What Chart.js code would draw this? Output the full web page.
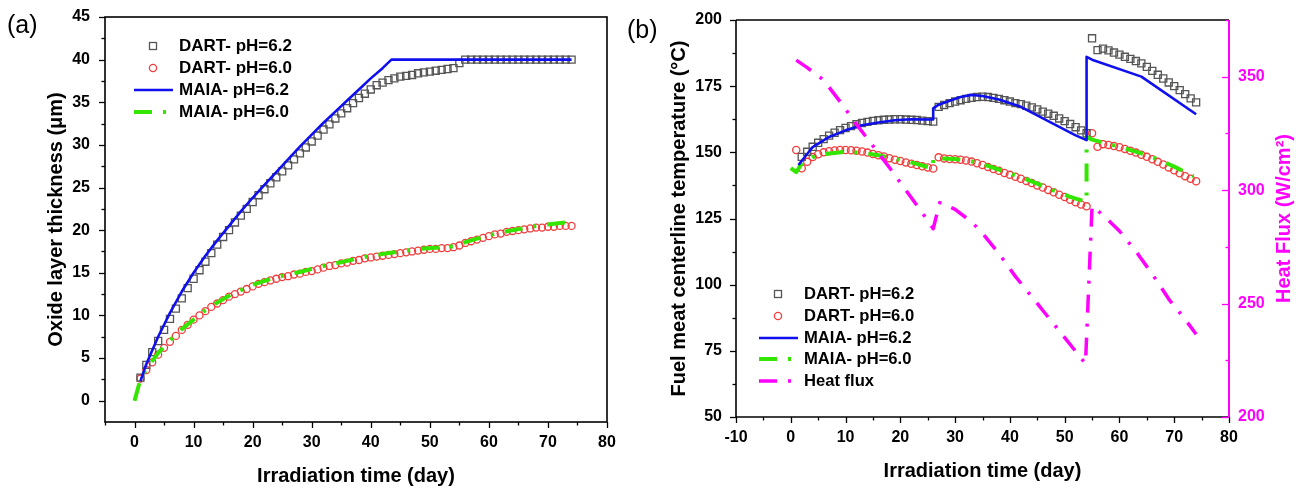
<!DOCTYPE html>
<html><head><meta charset="utf-8">
<script src="https://cdn.jsdelivr.net/npm/chart.js@4.4.1/dist/chart.umd.min.js"></script>
<style>
html,body{margin:0;padding:0;background:#fff;}
#wrap{position:relative;width:1306px;height:489px;overflow:hidden;background:#fff;}
canvas{position:absolute;top:0;}
#ca{left:0;} #cb{left:620px;}
</style></head><body>
<div id="wrap"><canvas id="ca" width="620" height="489"></canvas><canvas id="cb" width="686" height="489"></canvas></div>
<script>
// ---------- Panel (a): oxide layer thickness ----------
const aDays = [1,2,3,4,5,6,7,8,9,10,11,12,13,14,15,16,17,18,19,20,21,22,23,24,25,26,27,28,29,30,31,32,33,34,35,36,37,38,39,40,41,42,43,44,45,46,47,48,49,50,51,52,53,54,55,56,57,58,59,60,61,62,63,64,65,66,67,68,69,70,71,72,73,74];
const aDart62 = [2.7,4.2,5.7,7.0,8.3,9.6,10.8,12.0,13.2,14.3,15.3,16.3,17.3,18.3,19.2,20.0,20.9,21.7,22.5,23.3,24.1,24.8,25.5,26.2,26.9,27.6,28.3,29.0,29.7,30.4,31.1,31.8,32.4,33.1,33.7,34.3,34.9,35.5,36.0,36.5,37.0,37.3,37.6,37.8,38.0,38.1,38.2,38.4,38.5,38.6,38.7,38.8,38.9,39.0,39.6,40,40,40,40,40,40,40,40,40,40,40,40,40,40,40,40,40,40,40];
const aDart60 = [2.6,3.6,4.5,5.4,6.2,6.9,7.6,8.3,8.9,9.5,10.0,10.5,11.0,11.4,11.8,12.2,12.5,12.8,13.1,13.4,13.7,13.9,14.1,14.3,14.5,14.6,14.8,14.9,15.1,15.2,15.4,15.6,15.8,15.9,16.1,16.2,16.4,16.5,16.7,16.8,16.9,17.0,17.1,17.2,17.3,17.4,17.5,17.6,17.7,17.8,17.8,17.9,17.9,18.0,18.2,18.5,18.7,18.9,19.1,19.3,19.5,19.6,19.8,19.9,20.0,20.1,20.2,20.3,20.3,20.4,20.4,20.5,20.5,20.5];
const aMaia62Days = [1,2,4,6,8,10,12,14,16,18,20,22,24,26,28,30,32,34,36,38,40,42,43.5,74];
const aMaia62 = [2.3,4.3,7.5,10.3,12.8,15.0,17.0,18.8,20.5,22.2,23.8,25.3,26.8,28.3,29.8,31.2,32.6,33.9,35.2,36.5,37.8,39.0,40,40];
const aMaia60Days = [0,1,2,4,6,8,10,12,14,16,20,24,28,32,36,40,44,48,52,54,56,60,64,68,74];
const aMaia60 = [0,2.5,3.7,5.6,7.1,8.4,9.5,10.6,11.5,12.3,13.6,14.5,15.1,15.8,16.4,17.0,17.4,17.8,18.0,18.1,18.6,19.4,20.0,20.5,21.0];
const aXTicks = [0,10,20,30,40,50,60,70,80];
const aXMinor = [-5,5,15,25,35,45,55,65,75];
const aYTicks = [0,5,10,15,20,25,30,35,40,45];
const aYMinor = [2.5,7.5,12.5,17.5,22.5,27.5,32.5,37.5,42.5];

// ---------- Panel (b): fuel meat centerline temperature & heat flux ----------
const bDart62Days = [2,3,4,5,6,7,8,9,10,11,12,13,14,15,16,17,18,19,20,21,22,23,24,25,26,27,28,29,30,31,32,33,34,35,36,37,38,39,40,41,42,43,44,45,46,47,48,49,50,51,52,53,54,55,56,57,58,59,60,61,62,63,64,65,66,67,68,69,70,71,72,73,74];
const bDart62 = [148.3,150.2,152.1,153.6,155.0,156.3,157.4,158.4,159.2,159.9,160.6,161.1,161.5,161.9,162.1,162.3,162.4,162.5,162.5,162.4,162.3,162.2,162.0,161.8,161.6,
  167.2,167.9,168.6,169.2,169.7,170.2,170.6,170.9,171.0,170.9,170.6,170.2,169.7,169.2,168.6,168.2,167.6,167.0,166.2,165.4,164.6,163.8,162.8,161.8,160.7,159.5,158.3,157.2,
  193.1,188.6,189.2,188.5,187.7,186.9,186.1,185.3,184.5,183.6,182.3,180.8,179.3,177.9,176.4,175.0,173.5,172.0,170.4,168.9];
const bDart60Days = [1,2,3,4,5,6,7,8,9,10,11,12,13,14,15,16,17,18,19,20,21,22,23,24,25,26,27,28,29,30,31,32,33,34,35,36,37,38,39,40,41,42,43,44,45,46,47,48,49,50,51,52,53,54,55,56,57,58,59,60,61,62,63,64,65,66,67,68,69,70,71,72,73,74];
const bDart60 = [150.9,144.0,146.4,148.2,149.3,150.0,150.4,150.7,150.9,150.9,150.8,150.6,150.3,149.9,149.4,148.9,148.4,147.8,147.2,146.7,146.2,145.7,145.2,144.7,144.3,143.9,
  148.1,147.7,147.5,147.4,147.2,146.9,146.5,145.9,145.2,144.5,143.7,143.0,142.2,141.5,140.8,140.0,139.2,138.4,137.5,136.7,135.8,134.9,134.0,133.1,132.1,131.1,130.3,129.6,
  157.2,152.1,153.1,152.8,152.4,151.9,151.3,150.6,149.9,149.1,148.3,147.4,146.4,145.4,144.3,143.2,142.1,141.0,140.0,139.1];
const bMaia62Days = [1.4,4,7,10,13,16,19,22,26,26,27,29,31,33,35,38,42,47,52,54,54,55,64,74];
const bMaia62 = [145.2,152.0,155.8,158.3,160.2,161.3,162.1,162.5,162.4,166.6,168.0,169.5,170.9,171.7,171.3,170.0,167.2,161.8,156.4,154.6,186.1,185.0,178.6,164.4];
const bMaia60Days = [0,1,2,4,7,10,13,16,19,22,26,26,30,33,36,39,42,45,48,51,54,54,55,58,61,64,67,70,73.5];
const bMaia60 = [144.0,142.5,145.8,148.2,149.6,150.2,149.8,148.9,147.6,146.2,143.9,147.8,147.5,146.6,144.9,142.8,140.6,138.2,135.6,133.2,131.2,155.9,154.8,153.2,151.5,149.6,147.4,144.6,141.0];
const bHeatDays = [1,3,6,9,12,15,18,21,24,26,27.2,30,33,35,38,41,44,47,50,53.8,55,57,60,63,66,69,72,74];
const bHeatFlux = [357.3,354,348.5,339,329,319.5,310,300,290,283,294.5,291.5,286,281,272,262,253,244,235,223.5,293,289,282,273,263,252,243,236.5];
const bXTicks = [-10,0,10,20,30,40,50,60,70,80];
const bXMinor = [-5,5,15,25,35,45,55,65,75];
const bYTicks = [50,75,100,125,150,175,200];
const bYMinor = [62.5,87.5,112.5,137.5,162.5,187.5];
const bY2Ticks = [200,250,300,350];
const bY2Minor = [225,275,325,375];

// ---------- styling ----------
const FAM = "'Liberation Sans', Arial, sans-serif";
const C_SQ = '#555555', C_CI = '#f03c3c', C_BLUE = '#1010ee', C_GREEN = '#33e600', C_MAG = '#ff00ff';
const DASHDOT = [18, 11, 3, 11];
const pts = (xs, ys) => xs.map((x, i) => ({x: x, y: ys[i]}));

function markerSet(label, xs, ys, style, color, r, yAxis) {
  return {label, data: pts(xs, ys), showLine: false, pointStyle: style, pointRadius: r, pointHoverRadius: r,
    pointBorderWidth: 1.3, borderColor: color, pointBorderColor: color, backgroundColor: 'rgba(0,0,0,0)',
    pointBackgroundColor: 'rgba(0,0,0,0)', yAxisID: yAxis || 'y'};
}
function lineSet(label, xs, ys, color, w, dash, yAxis) {
  return {label, data: pts(xs, ys), showLine: true, pointRadius: 0, pointHoverRadius: 0, borderColor: color,
    backgroundColor: color, borderWidth: w, borderDash: dash || [], borderCapStyle: 'butt', borderJoinStyle: 'round',
    tension: 0, yAxisID: yAxis || 'y'};
}
function tickFont(){ return {family: FAM, size: 16, weight: 'bold'}; }
function setTicks(list){ return s => { s.ticks = list.map(v => ({value: v})); }; }
// invisible tick marks reserve the label gap (the visible marks are drawn by the decor plugins)
function hiddenGrid(len){ return {display: true, drawOnChartArea: false, drawTicks: true, tickLength: len, tickColor: 'rgba(0,0,0,0)'}; }

function line(ctx, x1, y1, x2, y2){ ctx.beginPath(); ctx.moveTo(x1, y1); ctx.lineTo(x2, y2); ctx.stroke(); }
function text(ctx, t, x, y, font, color, align, rot){
  ctx.save(); ctx.translate(x, y); if (rot) ctx.rotate(rot);
  ctx.font = font; ctx.fillStyle = color; ctx.textAlign = align || 'center'; ctx.textBaseline = 'middle';
  ctx.fillText(t, 0, 0); ctx.restore();
}
function xTicks(ctx, sc, vals, len, bottom){ vals.forEach(v => { const p = Math.round(sc.getPixelForValue(v)) + 0.5; line(ctx, p, bottom, p, bottom + len); }); }
function yTicks(ctx, sc, vals, x, dx){ vals.forEach(v => { const p = Math.round(sc.getPixelForValue(v)) + 0.5; line(ctx, x, p, x + dx, p); }); }

function legendItem(ctx, kind, color, x0, y, label, font){
  const mx = x0 + 19, lx1 = x0, lx2 = x0 + 39, tx = x0 + 45;
  ctx.save();
  ctx.strokeStyle = color;
  if (kind === 'sq') { ctx.lineWidth = 1.3; ctx.strokeRect(mx - 3.5, y - 3.5, 7, 7); }
  else if (kind === 'ci') { ctx.lineWidth = 1.3; ctx.beginPath(); ctx.arc(mx, y, 3.6, 0, Math.PI * 2); ctx.stroke(); }
  else if (kind === 'solid') { ctx.lineWidth = 2.6; line(ctx, lx1, y, lx2, y); }
  else { ctx.lineWidth = kind === 'dd4' ? 4 : 3.5; ctx.setLineDash(DASHDOT); line(ctx, lx1, y, lx2, y); }
  ctx.restore();
  text(ctx, label, tx, y, font, '#000', 'left');
}

const decorA = {
  id: 'decorA',
  afterDraw(chart){
    const ctx = chart.ctx, a = chart.chartArea, sx = chart.scales.x, sy = chart.scales.y;
    ctx.save();
    ctx.strokeStyle = '#000'; ctx.lineWidth = 1.6;
    ctx.strokeRect(a.left, a.top, a.right - a.left, a.bottom - a.top);
    ctx.lineWidth = 1.3;
    xTicks(ctx, sx, aXTicks, 6, a.bottom); xTicks(ctx, sx, aXMinor, 3.5, a.bottom);
    yTicks(ctx, sy, aYTicks, a.left, -6); yTicks(ctx, sy, aYMinor, a.left, -3.5);
    ctx.restore();
    const tf = 'bold 20px ' + FAM;
    text(ctx, 'Oxide layer thickness (\u03bcm)', 56, (a.top + a.bottom) / 2, tf, '#000', 'center', -Math.PI / 2);
    text(ctx, 'Irradiation time (day)', (a.left + a.right) / 2, 476, tf, '#000');
    text(ctx, '(a)', 7, 26, '25px ' + FAM, '#000', 'left');
    const lf = 'bold 17px ' + FAM;
    legendItem(ctx, 'sq', C_SQ, 134, 46, 'DART- pH=6.2', lf);
    legendItem(ctx, 'ci', C_CI, 134, 68, 'DART- pH=6.0', lf);
    legendItem(ctx, 'solid', C_BLUE, 134, 90, 'MAIA- pH=6.2', lf);
    legendItem(ctx, 'dd4', C_GREEN, 134, 112, 'MAIA- pH=6.0', lf);
  }
};

const decorB = {
  id: 'decorB',
  afterDraw(chart){
    const ctx = chart.ctx, a = chart.chartArea, sx = chart.scales.x, sy = chart.scales.y, s2 = chart.scales.y2;
    ctx.save();
    ctx.strokeStyle = '#000'; ctx.lineWidth = 1.6;
    line(ctx, a.left, a.top, a.right, a.top);
    line(ctx, a.left, a.top, a.left, a.bottom);
    line(ctx, a.left, a.bottom, a.right, a.bottom);
    ctx.lineWidth = 1.3;
    xTicks(ctx, sx, bXTicks, 6, a.bottom); xTicks(ctx, sx, bXMinor, 3.5, a.bottom);
    yTicks(ctx, sy, bYTicks, a.left, -6); yTicks(ctx, sy, bYMinor, a.left, -3.5);
    ctx.strokeStyle = C_MAG; ctx.lineWidth = 2;
    line(ctx, a.right, a.top, a.right, a.bottom);
    ctx.lineWidth = 1.3;
    yTicks(ctx, s2, bY2Ticks, a.right, -7); yTicks(ctx, s2, bY2Minor, a.right, -3.5);
    ctx.restore();
    const tf = 'bold 20px ' + FAM;
    const cy = (a.top + a.bottom) / 2;
    text(ctx, 'Fuel meat centerline temperature (\u00b0C)', 59, cy, tf, '#000', 'center', -Math.PI / 2);
    text(ctx, 'Heat Flux (W/cm\u00b2)', 664, cy, tf, C_MAG, 'center', -Math.PI / 2);
    text(ctx, 'Irradiation time (day)', (a.left + a.right) / 2, 471, tf, '#000');
    text(ctx, '(b)', 7, 31, '25px ' + FAM, '#000', 'left');
    const lf = 'bold 16.6px ' + FAM;
    legendItem(ctx, 'sq', C_SQ, 139, 294, 'DART- pH=6.2', lf);
    legendItem(ctx, 'ci', C_CI, 139, 316, 'DART- pH=6.0', lf);
    legendItem(ctx, 'solid', C_BLUE, 139, 338, 'MAIA- pH=6.2', lf);
    legendItem(ctx, 'dd4', C_GREEN, 139, 359, 'MAIA- pH=6.0', lf);
    legendItem(ctx, 'dd', C_MAG, 139, 381, 'Heat flux', lf);
  }
};

const common = {
  responsive: false, animation: false, devicePixelRatio: 1, events: [],
  plugins: {legend: {display: false}, tooltip: {enabled: false}}
};

new Chart(document.getElementById('ca'), {
  type: 'scatter',
  data: {datasets: [
    Object.assign(lineSet('MAIA- pH=6.2', aMaia62Days, aMaia62, C_BLUE, 2.6), {order: 1}),
    Object.assign(lineSet('MAIA- pH=6.0', aMaia60Days, aMaia60, C_GREEN, 4, DASHDOT), {order: 2}),
    Object.assign(markerSet('DART- pH=6.2', aDays, aDart62, 'rect', C_SQ, 5), {order: 3}),
    Object.assign(markerSet('DART- pH=6.0', aDays, aDart60, 'circle', C_CI, 3.5), {order: 4})
  ]},
  options: Object.assign({}, common, {
    layout: {autoPadding: false, padding: {top: 17, right: 13, left: 0, bottom: 0}},
    scales: {
      x: {type: 'linear', min: -5, max: 80, afterBuildTicks: setTicks(aXTicks), afterFit: s => { s.height = 67; },
        grid: hiddenGrid(8), border: {display: false},
        ticks: {padding: 3, font: tickFont(), color: '#000', maxRotation: 0, autoSkip: false}},
      y: {type: 'linear', min: -2.5, max: 45, afterBuildTicks: setTicks(aYTicks), afterFit: s => { s.width = 105; },
        grid: hiddenGrid(12), border: {display: false},
        ticks: {padding: 3, font: tickFont(), color: '#000', autoSkip: false}}
    }
  }),
  plugins: [decorA]
});

new Chart(document.getElementById('cb'), {
  type: 'scatter',
  data: {datasets: [
    Object.assign(lineSet('Heat flux', bHeatDays, bHeatFlux, C_MAG, 3.5, DASHDOT, 'y2'), {order: 0}),
    Object.assign(lineSet('MAIA- pH=6.2', bMaia62Days, bMaia62, C_BLUE, 2.6), {order: 1}),
    Object.assign(lineSet('MAIA- pH=6.0', bMaia60Days, bMaia60, C_GREEN, 4, DASHDOT), {order: 2}),
    Object.assign(markerSet('DART- pH=6.2', bDart62Days, bDart62, 'rect', C_SQ, 5), {order: 3}),
    Object.assign(markerSet('DART- pH=6.0', bDart60Days, bDart60, 'circle', C_CI, 3.6), {order: 4})
  ]},
  options: Object.assign({}, common, {
    layout: {autoPadding: false, padding: {top: 20, right: 0, left: 0, bottom: 0}},
    scales: {
      x: {type: 'linear', min: -10, max: 80, afterBuildTicks: setTicks(bXTicks), afterFit: s => { s.height = 72; },
        grid: hiddenGrid(8), border: {display: false},
        ticks: {padding: 3, font: tickFont(), color: '#000', maxRotation: 0, autoSkip: false}},
      y: {type: 'linear', position: 'left', min: 50, max: 200, afterBuildTicks: setTicks(bYTicks), afterFit: s => { s.width = 116; },
        grid: hiddenGrid(11), border: {display: false},
        ticks: {padding: 3, font: tickFont(), color: '#000', autoSkip: false}},
      y2: {type: 'linear', position: 'right', min: 200, max: 375, afterBuildTicks: setTicks(bY2Ticks), afterFit: s => { s.width = 77; },
        grid: hiddenGrid(6), border: {display: false},
        ticks: {padding: 3, font: tickFont(), color: C_MAG, autoSkip: false}}
    }
  }),
  plugins: [decorB]
});
</script>
</body></html>
